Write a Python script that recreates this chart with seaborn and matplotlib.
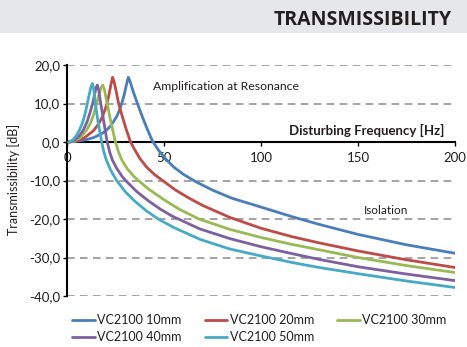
import matplotlib
matplotlib.use("Agg")
import matplotlib.pyplot as plt
import seaborn as sns
import pandas as pd
from matplotlib.patches import Rectangle
from matplotlib.ticker import FuncFormatter

# Transmissibility curves, frequency [Hz] vs transmissibility [dB]
freq_10 = [1, 5, 10, 14, 18, 20.5, 23, 25.6, 27, 28.2, 29.5, 30.6, 31.6, 32.6, 34, 36.3,
           38.5, 41, 44, 47, 50.5, 55, 60, 66, 75, 85, 100, 116, 130, 150, 175, 200]
db_10 = [0, 0.2, 0.6, 1.2, 2.2, 3.1, 4.5, 6.6, 8.2, 10, 12.3, 14.8, 16.8, 15.6, 13.3, 10,
         7.0, 3.8, 0.3, -2.0, -4.2, -6.5, -8.4, -10.2, -12.5, -14.6, -16.9, -19.4, -21.4,
         -24.0, -26.7, -28.9]

freq_20 = [1, 5, 9, 13.6, 16, 18, 19.5, 20.6, 21.7, 22.6, 23.5, 24.3, 25.3, 26.6, 28.3,
           30.2, 32.6, 35, 37.6, 41, 45, 49.5, 56, 63, 70, 84, 100, 116, 130, 150, 175, 200]
db_20 = [0, 0.3, 1.1, 2.9, 4.5, 6.3, 8.2, 10, 12.4, 14.8, 16.8, 15.6, 13.3, 10, 7.0,
         3.8, 0.2, -2.1, -4.3, -6.5, -8.4, -10.1, -12.5, -14.6, -16.5, -19.6, -22.4,
         -24.6, -26.2, -28.3, -30.6, -32.6]

freq_30 = [1, 4, 7, 10.1, 12, 13.8, 15.3, 16.5, 17.5, 18.4, 19.2, 20.7, 22.5, 24.8, 26.5,
           28.3, 31, 34, 37, 42, 50, 58, 68, 84, 100, 116, 130, 150, 175, 200]
db_30 = [0, 0.3, 1.2, 3.1, 4.8, 7.2, 10, 12.3, 14.0, 14.8, 13.8, 10, 5.5, 0.3, -2.5,
         -4.7, -6.9, -8.7, -10.1, -12.2, -15.0, -17.5, -20.0, -22.7, -24.8, -26.6,
         -28.0, -30.0, -32.1, -33.9]

freq_40 = [1, 4, 6.5, 8.4, 10.3, 11.8, 13.2, 14.2, 15, 15.6, 16.3, 17.4, 18.9, 20.6, 22,
           23.4, 25.8, 28.5, 31, 36, 42, 48, 54, 60, 68.6, 84, 100, 116, 130, 150, 175, 200]
db_40 = [0, 0.5, 1.7, 3.1, 5.2, 7.5, 10, 12.3, 14.1, 14.8, 13.6, 10, 5.5, 0.3, -2.6,
         -4.7, -7.0, -9.0, -10.4, -12.9, -15.3, -17.4, -19.2, -20.6, -22.6, -25.1,
         -27.2, -29.0, -30.5, -32.4, -34.3, -36.0]

freq_50 = [1, 3, 5, 6.4, 8, 9.4, 10.5, 11.5, 12.4, 13.1, 13.7, 14.6, 16, 17.8, 19, 20.3,
           22.5, 25.6, 30, 35, 41, 47, 55, 68.6, 84, 100, 116, 130, 150, 175, 200]
db_50 = [0, 0.5, 1.8, 3.1, 5.0, 7.5, 10, 12.4, 14.4, 15.2, 14.0, 10, 5.2, 0.2, -2.6,
         -4.7, -7.3, -10, -12.9, -15.4, -17.9, -20, -22.2, -25.3, -27.8, -29.6, -31.3,
         -32.6, -34.2, -36.1, -37.8]

series_names = ["VC2100 10mm", "VC2100 20mm", "VC2100 30mm", "VC2100 40mm", "VC2100 50mm"]
series_freq = [freq_10, freq_20, freq_30, freq_40, freq_50]
series_db = [db_10, db_20, db_30, db_40, db_50]
series_colors = ["#4a7ebb", "#be4b48", "#98b954", "#7d60a0", "#46aac5"]

x_ticks = [0, 50, 100, 150, 200]
y_ticks = [20, 10, 0, -10, -20, -30, -40]

rows = []
for name, fs, ds in zip(series_names, series_freq, series_db):
    for f, d in zip(fs, ds):
        rows.append({"Frequency": f, "dB": d, "Model": name})
df = pd.DataFrame(rows)

sns.set_style("white")
plt.rcParams["font.family"] = ["Lato", "DejaVu Sans"]
text_color = "#231f20"

fig = plt.figure(figsize=(4.67, 3.47), dpi=100)
ax = fig.add_axes([67 / 467, 1 - 296 / 347, (455 - 67) / 467, (296 - 65) / 347])

# header band with the section title
fig.patches.append(Rectangle((0, 1 - 33 / 347), 1, 33 / 347, transform=fig.transFigure,
                             facecolor="#e6e7e8", edgecolor="none", zorder=0))
fig.text(452 / 467, 1 - 20 / 347, "TRANSMISSIBILITY", ha="right", va="center",
         fontsize=14, fontweight="bold", color=text_color, family=["Open Sans", "DejaVu Sans"])

# dashed horizontal grid
for yv in y_ticks:
    if yv != 0:
        ax.axhline(yv, color="#8c8c8c", lw=1.1, dashes=(5, 3.5), zorder=1)

sns.lineplot(data=df, x="Frequency", y="dB", hue="Model", palette=series_colors,
             estimator=None, sort=False, lw=2.0, ax=ax, zorder=3, legend=True)

ax.set_xlim(0, 200)
ax.set_ylim(-40, 20)
ax.set_xticks(x_ticks)
ax.set_yticks(y_ticks)
ax.yaxis.set_major_formatter(FuncFormatter(lambda v, p: f"{v:.1f}".replace(".", ",")))

for s in ["top", "right"]:
    ax.spines[s].set_visible(False)
ax.spines["left"].set_color("black")
ax.spines["left"].set_linewidth(1.5)
ax.spines["bottom"].set_position(("data", 0))
ax.spines["bottom"].set_color("black")
ax.spines["bottom"].set_linewidth(1.5)
ax.spines["bottom"].set_zorder(2)

ax.tick_params(axis="y", direction="out", length=3, width=1, color="black",
               labelsize=9.5, labelcolor=text_color, pad=2, left=True)
ax.tick_params(axis="x", direction="out", length=3, width=1, color="black",
               labelsize=9.5, labelcolor=text_color, pad=4, bottom=True)
ax.set_xlabel("")
ax.set_ylabel("")

fig.text(14 / 467, 1 - 179 / 347, "Transmissibility [dB]", rotation=90, ha="center",
         va="center", fontsize=9, color=text_color)

ax.text(44.3, 14.5, "Amplification at Resonance", fontsize=8.8, color=text_color,
        ha="left", va="center")
ax.text(194.3, 3.1, "Disturbing Frequency [Hz]", fontsize=9.5, fontweight="bold",
        color=text_color, ha="right", va="center")
ax.text(153, -17.9, "Isolation", fontsize=8.5, color=text_color, ha="left", va="center")

handles, labels = ax.get_legend_handles_labels()
ax.get_legend().remove()
order = [0, 3, 1, 4, 2]
fig.legend([handles[i] for i in order], [labels[i] for i in order], ncol=3,
           loc="upper left", bbox_to_anchor=(72 / 467, 1 - 314 / 347), frameon=False,
           fontsize=9, handlelength=1.8, handletextpad=0.2, columnspacing=1.85,
           labelspacing=0.4, borderpad=0, borderaxespad=0, labelcolor=text_color)

fig.savefig("out.png", dpi=100)
